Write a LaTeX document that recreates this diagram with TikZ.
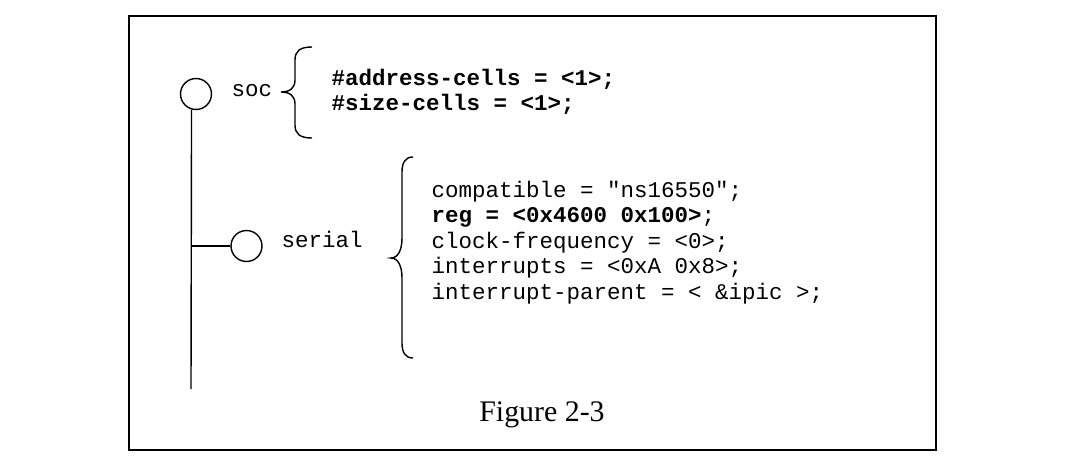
\documentclass[tikz,border=0pt]{standalone}
\usepackage{fontspec}
\setmainfont{Liberation Serif}
\setmonofont{Liberation Mono}
\usetikzlibrary{positioning}

\begin{document}
\begin{tikzpicture}[x=0.02cm, y=-0.02cm, line width=0.8pt,
    leaf/.style={draw, circle, minimum size=0.62cm, inner sep=0pt},
    code/.style={font=\fontsize{12.8}{14.5}\selectfont\ttfamily, inner sep=0pt, align=left, anchor=base west}]
    \useasboundingbox (0,0) rectangle (1078,460);
    % 1. Khung ngoai
    \draw[line width=1.1pt] (129,16) rectangle (936,450);

    % 2. Cac nut cay
    \node[leaf] (soc) at (196,94) {};
    \node[leaf] (serial) at (246.5,246) {};
    \coordinate (trunkend) at (191,389);
    \draw (soc.254) -- (trunkend);
    \draw (serial.west) -- (serial.west -| trunkend);

    % 3. Ten nut
    \node[code] (soclabel) at (231,96.5) {soc};
    \node[code] (seriallabel) at (281,247) {serial};

    % 4. Ngoac nhon
    \draw (312,47) .. controls (300,47) and (295,51) .. (295,60) -- (295,80)
        .. controls (295,88) and (290,92) .. (281,92)
        .. controls (290,92) and (295,96) .. (295,104) -- (295,125)
        .. controls (295,134) and (300,138) .. (312,138);
    \draw (413,157) .. controls (405,157) and (402,163) .. (402,172) -- (402,238)
        .. controls (402,250) and (398,258) .. (391,258)
        .. controls (398,258) and (402,266) .. (402,278) -- (402,343)
        .. controls (402,352) and (405,358) .. (413,358);

    % 5. Thuoc tinh (neo o dong cuoi)
    \node[code] (socprops) at (331,110.5) {\textbf{\#address-cells = <1>;}\\
        \textbf{\#size-cells = <1>;}};
    \node[code] (serialprops) at (431,299) {compatible = "ns16550";\\
        \textbf{reg = <0x4600 0x100>};\\
        clock-frequency = <0>;\\
        interrupts = <0xA 0x8>;\\
        interrupt-parent = < \&ipic >;};

    % 6. Chu thich
    \node (caption) at (542,415) {\fontsize{17}{20}\selectfont Figure 2-3};
\end{tikzpicture}
\end{document}
